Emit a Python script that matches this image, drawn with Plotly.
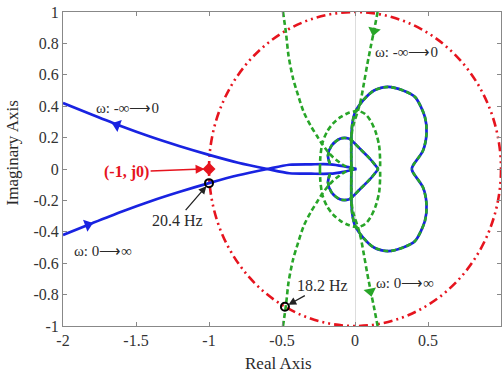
import plotly.graph_objects as go

# ---------------- data ----------------
# Blue Nyquist curve, upper-half pieces (lower half = complex conjugate)
lead_x = [-2.0, -1.8, -1.6, -1.4, -1.2, -1.0, -0.8, -0.6, -0.45, -0.3, -0.17, -0.08, 0.01]
lead_y = [0.42, 0.345, 0.272, 0.205, 0.145, 0.09, 0.04, 0.0, -0.027, -0.03, -0.03, -0.018, 0.0]
arc_x = [-0.171, -0.185, -0.16, -0.103, -0.057, -0.034, 0.034, 0.103, 0.16]
arc_y = [0.03, 0.086, 0.15, 0.193, 0.197, 0.19, 0.129, 0.065, 0.0]
loop_x = [-0.025, -0.025, -0.018, 0.0, 0.057, 0.13, 0.228, 0.33, 0.411, 0.479, 0.49, 0.466, 0.397, 0.388]
loop_y = [0.0, 0.2, 0.29, 0.36, 0.438, 0.50, 0.523, 0.50, 0.459, 0.331, 0.227, 0.118, 0.022, 0.0]

# Green Nyquist curve, upper-half pieces
green_a_x = [-0.493, -0.472, -0.455, -0.425, -0.39, -0.35, -0.30, -0.26, -0.23, -0.19, -0.15, -0.07, 0.0]
green_a_y = [1.0, 0.86, 0.72, 0.58, 0.47, 0.36, 0.27, 0.21, 0.165, 0.115, 0.075, 0.02, 0.0]
oval_x = [-0.24, -0.237, -0.222, -0.19, -0.15, -0.1, -0.05, 0.02, 0.07, 0.105, 0.14, 0.165, 0.172, 0.172]
oval_y = [0.0, 0.08, 0.17, 0.24, 0.29, 0.33, 0.355, 0.37, 0.35, 0.31, 0.24, 0.15, 0.06, 0.0]
green_b_x = [0.155, 0.13, 0.108, 0.085, 0.062, 0.04, 0.02, -0.005, -0.02, -0.025, -0.025]
green_b_y = [1.0, 0.88, 0.78, 0.67, 0.55, 0.44, 0.37, 0.3, 0.24, 0.15, 0.0]

# Direction arrows
blue_arrow_x = [-1.63, -1.83]
blue_arrow_y = [0.28, -0.356]
blue_arrow_angle = [20, -20]
green_arrow_x = [0.13, 0.105]
green_arrow_y = [0.88, -0.78]
green_arrow_angle = [12, -12]

# Critical point and frequency markers
crit_x = [-1.0]
crit_y = [0.0]
freq_x = [-1.0, -0.48]
freq_y = [-0.09, -0.877]
freq_labels = ["20.4 Hz", "18.2 Hz"]

# Direction labels
omega_labels = ["ω: -∞⟶0", "ω: 0⟶∞", "ω: -∞⟶0", "ω: 0⟶∞"]
omega_x = [-1.555, -1.726, 0.356, 0.342]
omega_y = [0.39, -0.52, 0.744, -0.725]

# Ticks
x_ticks = [-2, -1.5, -1, -0.5, 0, 0.5, 1]
x_tick_text = ["-2", "-1.5", "-1", "-0.5", "0", "0.5", "1"]
y_ticks = [1, 0.8, 0.6, 0.4, 0.2, 0, -0.2, -0.4, -0.6, -0.8, -1]
y_tick_text = ["1", "0.8", "0.6", "0.4", "0.2", "0", "-0.2", "-0.4", "-0.6", "-0.8", "-1"]


def with_conj(pieces):
    """Each upper piece followed by its complex conjugate, separated by gaps."""
    xs, ys = [], []
    for px, py in pieces:
        xs += list(px) + [None] + list(px) + [None]
        ys += list(py) + [None] + [-v for v in py] + [None]
    return xs, ys


blue_x, blue_y = with_conj([(lead_x, lead_y), (arc_x, arc_y), (loop_x, loop_y)])
green_x, green_y = with_conj([(green_a_x, green_a_y), (oval_x, oval_y), (green_b_x, green_b_y),
                              (loop_x, loop_y), (arc_x, arc_y)])

BLUE = "rgb(25,35,225)"
GREEN = "rgb(40,165,40)"
RED = "rgb(230,20,30)"
FONT = "Liberation Serif, Times New Roman, serif"
TXT = "#2a2a2a"

fig = go.Figure()
fig.add_trace(go.Scatter(x=blue_x, y=blue_y, mode="lines", hoverinfo="skip",
                         line=dict(color=BLUE, width=2.7, shape="spline", smoothing=0.8)))
fig.add_trace(go.Scatter(x=green_x, y=green_y, mode="lines", hoverinfo="skip",
                         line=dict(color=GREEN, width=2.6, dash="5px,3px", shape="spline", smoothing=0.8)))
fig.add_trace(go.Scatter(x=blue_arrow_x[:1], y=blue_arrow_y[:1], mode="markers", hoverinfo="skip",
                         marker=dict(symbol="triangle-left", size=11, color=BLUE, angle=blue_arrow_angle[0])))
fig.add_trace(go.Scatter(x=blue_arrow_x[1:], y=blue_arrow_y[1:], mode="markers", hoverinfo="skip",
                         marker=dict(symbol="triangle-right", size=11, color=BLUE, angle=blue_arrow_angle[1])))
fig.add_trace(go.Scatter(x=green_arrow_x, y=green_arrow_y, mode="markers", hoverinfo="skip",
                         marker=dict(symbol="triangle-down", size=11, color=GREEN, angle=green_arrow_angle)))
fig.add_trace(go.Scatter(x=crit_x, y=crit_y, mode="markers", hoverinfo="skip",
                         marker=dict(symbol="diamond", size=10, color=RED)))
fig.add_trace(go.Scatter(x=freq_x, y=freq_y, mode="markers", hoverinfo="skip",
                         marker=dict(symbol="circle-open", size=8, color="black", line=dict(width=2))))

# unit circle
fig.add_shape(type="circle", xref="x", yref="y", x0=-1, y0=-1, x1=1, y1=1, layer="below",
              line=dict(color=RED, width=2.6, dash="9px,4px,2px,4px,2px,4px"))

for t, x, y in zip(omega_labels, omega_x, omega_y):
    fig.add_annotation(x=x, y=y, text=t, showarrow=False,
                       font=dict(family=FONT, size=15, color=TXT))

fig.add_annotation(x=-1.03, y=0, text="<b>(-1, j0)</b>", showarrow=True, ax=-78, ay=3,
                   arrowhead=2, arrowsize=1.2, arrowwidth=1.5, arrowcolor=RED,
                   font=dict(family=FONT, size=16, color=RED))
fig.add_annotation(x=freq_x[0], y=freq_y[0], text=freq_labels[0], showarrow=True, ax=-32, ay=37,
                   arrowhead=2, arrowsize=1.2, arrowwidth=1.3, arrowcolor="#222", standoff=4,
                   font=dict(family=FONT, size=16, color=TXT))
fig.add_annotation(x=freq_x[1], y=freq_y[1], text=freq_labels[1], showarrow=True, ax=38, ay=-21,
                   arrowhead=2, arrowsize=1.2, arrowwidth=1.3, arrowcolor="#222", standoff=4,
                   font=dict(family=FONT, size=16, color=TXT))

# axis titles as positioned text
fig.add_annotation(xref="paper", yref="paper", x=0.493, y=-0.12, yanchor="middle",
                   text="Real Axis", showarrow=False, font=dict(family=FONT, size=17, color=TXT))
fig.add_annotation(xref="paper", yref="paper", x=-0.116, y=0.55, xanchor="center", yanchor="middle",
                   textangle=-90, text="Imaginary Axis", showarrow=False,
                   font=dict(family=FONT, size=17, color=TXT))

axis_common = dict(showgrid=False, showline=True, mirror="ticks", linecolor="#888",
                   linewidth=1, ticks="inside", ticklen=4, tickcolor="#888", automargin=False,
                   tickfont=dict(family=FONT, size=16, color="#333"))
fig.update_xaxes(range=[-2, 1], tickvals=x_ticks, ticktext=x_tick_text,
                 zeroline=True, zerolinecolor="#ddd", zerolinewidth=1, **axis_common)
fig.update_yaxes(range=[-1, 1], tickvals=y_ticks, ticktext=y_tick_text, zeroline=False, **axis_common)
fig.update_layout(width=503, height=375, margin=dict(l=63, r=2, t=12, b=49),
                  plot_bgcolor="white", paper_bgcolor="white", showlegend=False)
fig.write_html("out.html", config={"displayModeBar": False},
               post_script="document.body.style.margin='0';document.body.style.overflow='hidden';")
